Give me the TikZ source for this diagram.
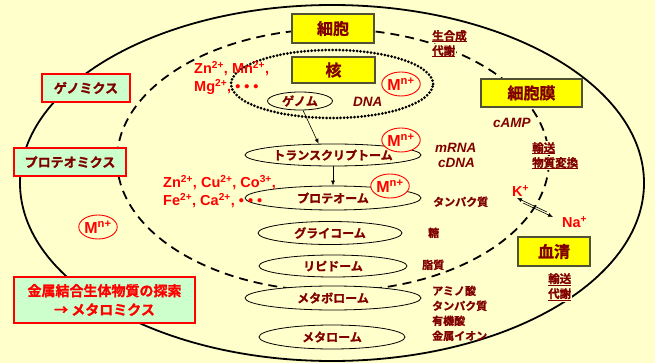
\documentclass[tikz,border=0pt]{standalone}
\usepackage{fontspec}
\setmainfont{Liberation Sans}
\newfontfamily\jp{Noto Sans CJK JP}[BoldFont={Noto Sans CJK JP Bold}, BoldFeatures={FakeBold=1.2}]
\usetikzlibrary{arrows.meta,shapes.geometric}
\definecolor{bg}{RGB}{255,255,204}
\definecolor{mar}{RGB}{128,0,0}
\definecolor{ylw}{RGB}{255,255,0}
\definecolor{grn}{RGB}{204,255,204}
\definecolor{bdr}{RGB}{80,80,50}
\newcommand\su[1]{\textsuperscript{#1}}
\newcommand\ulx[1]{\setbox0\hbox{#1}\rlap{\rule[-2.5pt]{\wd0}{1pt}}\box0}
\begin{document}
\begin{tikzpicture}[x=1pt,y=-1pt,
  ybox/.style={rectangle, draw=bdr, line width=1.2pt, fill=ylw, inner sep=0pt, text=mar,
    font=\jp\bfseries\fontsize{16}{18}\selectfont},
  gbox/.style={rectangle, draw=red, line width=1.3pt, fill=grn, inner sep=0pt, align=center},
  ome/.style={ellipse, draw, line width=0.8pt, fill=bg, inner sep=0pt, text=mar,
    font=\jp\bfseries\fontsize{12}{14}\selectfont},
  mcirc/.style={ellipse, draw=red, line width=0.9pt, fill=bg, minimum width=37pt,
    minimum height=24pt, inner sep=0pt, text=red, font=\bfseries\fontsize{16}{18}\selectfont},
  lab/.style={anchor=base west, inner sep=0pt, text=mar, font=\jp\bfseries\fontsize{11}{13}\selectfont},
  ulab/.style={anchor=base west, inner sep=1pt, fill=bg, text=mar, font=\jp\bfseries\fontsize{11.5}{13}\selectfont},
  ital/.style={anchor=base west, inner sep=0pt, text=mar, font=\bfseries\itshape\fontsize{13.5}{15}\selectfont},
  ion/.style={anchor=base west, inner sep=0pt, text=red, font=\bfseries\fontsize{14.5}{16}\selectfont},
  arr/.style={-{Latex[length=5pt,width=4pt]}, line width=0.6pt}
]
\fill[bg] (0,0) rectangle (655,363);
\useasboundingbox (0,0) rectangle (655,363);

% big outlines
\draw[line width=1.8pt] (332,183) ellipse [x radius=312pt, y radius=178pt];
\draw[line width=1.8pt, dash pattern=on 9pt off 6pt] (333,160) ellipse [x radius=216pt, y radius=131pt];
\draw[line width=3pt, dash pattern=on 0pt off 3.5pt, line cap=round] (332,84) ellipse [x radius=101pt, y radius=34pt];

% boxes
\node[ybox, minimum width=82pt, minimum height=29pt] (saibo) at (333,28.5) {細胞};
\node[ybox, minimum width=83pt, minimum height=26pt] (kaku) at (333.5,70) {核};
\node[ybox, minimum width=101pt, minimum height=28pt] (maku) at (531.5,93) {細胞膜};
\node[ybox, minimum width=72pt, minimum height=29pt] (kessei) at (554,251.5) {血清};

\node[gbox, minimum width=88pt, minimum height=28pt, text=mar,
  font=\jp\bfseries\fontsize{13}{15}\selectfont] (genomics) at (86,88) {ゲノミクス};
\node[gbox, minimum width=112pt, minimum height=28pt, text=mar,
  font=\jp\bfseries\fontsize{13}{15}\selectfont] (proteomics) at (70,162) {プロテオミクス};
\node[gbox, minimum width=181pt, minimum height=46pt, text=red,
  font=\jp\bfseries\fontsize{14}{19}\selectfont] (metallomics) at (104.5,300) {金属結合生体物質の探索\\→ メタロミクス};

% ome ellipses
\node[ome, minimum width=65pt, minimum height=18pt] (genome) at (300,101) {ゲノム};
\node[ome, minimum width=176pt, minimum height=22pt] (tscript) at (333,155) {トランスクリプトーム};
\node[ome, minimum width=176pt, minimum height=24pt] (prot) at (333,198) {プロテオーム};
\node[ome, minimum width=144pt, minimum height=23pt] (glyc) at (330,233) {グライコーム};
\node[ome, minimum width=148pt, minimum height=22pt] (lipid) at (333,266) {リピドーム};
\node[ome, minimum width=176pt, minimum height=24pt] (metab) at (333,298) {メタボローム};
\node[ome, minimum width=146pt, minimum height=24pt] (metal) at (332,337) {メタローム};

\draw[arr] (genome.-72) -- (tscript.142);
\draw[arr] (tscript.south) -- (prot.north);

% M^n+ circles
\node[mcirc] (m1) at (401,84) {M\su{n+}};
\node[mcirc] (m2) at (401,140) {M\su{n+}};
\node[mcirc] (m3) at (390,186) {M\su{n+}};
\node[mcirc] (m4) at (98,227) {M\su{n+}};

% ion texts
\node[ion] (ion1) at (194,74) {Zn\su{2+}, Mn\su{2+},};
\node[ion] (ion2) at (194,92) {Mg\su{2+}, • • •};
\node[ion] (ion3) at (163,188) {Zn\su{2+}, Cu\su{2+}, Co\su{3+},};
\node[ion] (ion4) at (163,206) {Fe\su{2+}, Ca\su{2+}, • • •};
\node[ion] (kion) at (512,197) {K\su{+}};
\node[ion] (naion) at (562,228) {Na\su{+}};
\coordinate (ka) at (547,212);
\coordinate (kb) at (517,198);
\coordinate (na) at (523,203);
\coordinate (nb) at (553,217);
\draw[arr] (ka) -- (kb);
\draw[arr] (na) -- (nb);

% italic labels
\node[ital] (dna) at (353,107) {DNA};
\node[ital] (camp) at (493,128) {cAMP};
\node[ital] (mrna) at (435,153) {mRNA};
\node[ital] (cdna) at (438,168) {cDNA};

% right labels
\node[lab] (tanpaku) at (433,206) {タンパク質};
\node[lab] (tou) at (428,237) {糖};
\node[lab] (shishitsu) at (422,269) {脂質};
\node[lab] (amino) at (432,295) {アミノ酸};
\node[lab] (tanpaku2) at (432,310) {タンパク質};
\node[lab] (yuuki) at (432,325) {有機酸};
\node[lab] (kinzoku) at (432,340) {金属イオン};

% underlined labels
\node[ulab] (seigou) at (431,40) {\ulx{生合成}};
\node[ulab] (taisha1) at (431,55) {\ulx{代謝}};
\node[ulab] (yusou1) at (531,152) {\ulx{輸送}};
\node[ulab] (henkan) at (531,167) {\ulx{物質変換}};
\node[ulab] (yusou2) at (547,283) {\ulx{輸送}};
\node[ulab] (taisha2) at (547,298) {\ulx{代謝}};
\end{tikzpicture}
\end{document}
